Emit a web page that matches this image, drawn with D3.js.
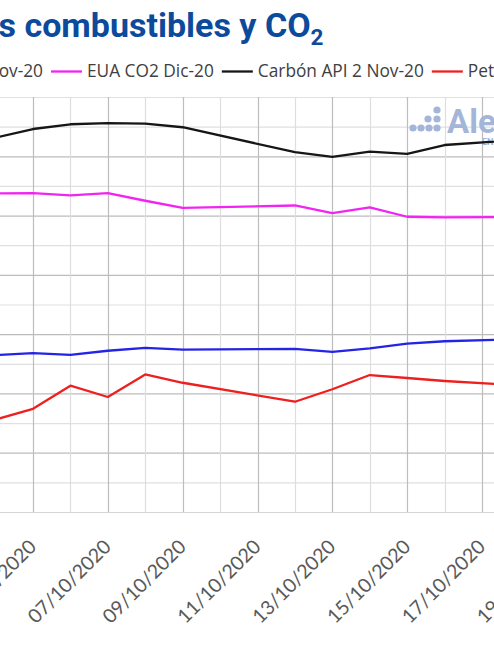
<!DOCTYPE html>
<html>
<head>
<meta charset="utf-8">
<script src="https://cdn.jsdelivr.net/npm/d3@7"></script>
<style>
  html, body { margin: 0; padding: 0; background: #fff; }
  svg { display: block; }
</style>
</head>
<body>
<svg id="chart" width="494" height="661"></svg>
<script>
// ---- data ----
const dates = ["2020-10-02","2020-10-05","2020-10-06","2020-10-07","2020-10-08","2020-10-09",
               "2020-10-12","2020-10-13","2020-10-14","2020-10-15","2020-10-16","2020-10-19"];
const gasTTF  = [25.8, 26.8, 26.5, 27.2, 27.7, 27.4, 27.5, 27.0, 27.6, 28.4, 28.8, 29.3];
const euaCO2  = [53.6, 53.8, 53.4, 53.8, 52.5, 51.3, 51.7, 50.4, 51.4, 49.8, 49.7, 49.8];
const api2    = [60.2, 64.6, 65.4, 65.6, 65.5, 64.9, 60.7, 59.9, 60.8, 60.4, 61.9, 63.2];
const brent   = [12.0, 17.4, 21.3, 19.4, 23.2, 21.8, 18.6, 20.7, 23.1, 22.6, 22.1, 21.0];
const seriesNames = ["Gas TTF Nov-20", "EUA CO2 Dic-20", "Carbón API 2 Nov-20", "Petróleo Brent Dic-20"];
const seriesColors = ["#2424e6", "#f224f2", "#161616", "#ee1f1f"];
const tickLabelDates = ["2020-10-03","2020-10-05","2020-10-07","2020-10-09","2020-10-11",
                        "2020-10-13","2020-10-15","2020-10-17","2020-10-19"];
const titlePre = "Precios de los ";
const titleMain = "Precios de los combustibles y CO";
const titleSub = "2";

// ---- setup ----
const svg = d3.select("#chart");
const W = 494, H = 661;
const parse = d3.utcParse("%Y-%m-%d");
const fmt = d3.utcFormat("%d/%m/%Y");
const plotTop = 97, plotBottom = 512;

const x = d3.scaleUtc()
  .domain([parse("2020-10-05"), parse("2020-10-17")])
  .range([33, 482]);
const y = d3.scaleLinear().domain([0, 70]).range([plotBottom, plotTop]);

// clip
svg.append("defs").append("clipPath").attr("id", "plotClip")
  .append("rect").attr("x", -20).attr("y", plotTop - 5).attr("width", W + 40).attr("height", plotBottom - plotTop + 10);

// horizontal gridlines
const yTicks = d3.range(0, 71, 5);
svg.append("g").selectAll("line").data(yTicks).join("line")
  .attr("x1", 0).attr("x2", W)
  .attr("y1", d => y(d) + 0.5).attr("y2", d => y(d) + 0.5)
  .attr("stroke", d => (d === 0 ? "#d6d6d6" : (d % 10 === 0 && d !== 70 ? "#bcbcbc" : "#e0e0e0")))
  .attr("stroke-width", 1.2);

// vertical gridlines (each day)
const days = d3.utcDay.range(parse("2020-09-30"), parse("2020-10-21"));
const majorSet = new Set(tickLabelDates);
svg.append("g").selectAll("line").data(days).join("line")
  .attr("x1", d => Math.round(x(d)) + 0.5).attr("x2", d => Math.round(x(d)) + 0.5)
  .attr("y1", plotTop).attr("y2", plotBottom)
  .attr("stroke", d => majorSet.has(d3.utcFormat("%Y-%m-%d")(d)) ? "#bdbdbd" : "#dedede")
  .attr("stroke-width", 1.2);

// logo watermark
const logo = svg.append("g").attr("fill", "#a3b5d8");
const dots = [[437,110],[428,119],[437,119],[413,128],[421,128],[429,128],[437,128]];
logo.selectAll("circle").data(dots).join("circle")
  .attr("cx", d => d[0]).attr("cy", d => d[1]).attr("r", 3.6);
logo.append("text").attr("x", 447).attr("y", 133)
  .attr("font-family", "Roboto, sans-serif").attr("font-weight", 700).attr("font-size", 33)
  .text("AleaSoft");
logo.append("text").attr("x", 482).attr("y", 145)
  .attr("font-family", "Roboto, sans-serif").attr("font-weight", 700).attr("font-size", 9)
  .text("ENERGY FORECASTING");

// lines
const allSeries = [gasTTF, euaCO2, api2, brent];
const line = d3.line().x(d => x(d.date)).y(d => y(d.value));
const gLines = svg.append("g").attr("clip-path", "url(#plotClip)");
allSeries.forEach((vals, i) => {
  const pts = dates.map((d, j) => ({ date: parse(d), value: vals[j] }));
  gLines.append("path").datum(pts)
    .attr("d", line).attr("fill", "none")
    .attr("stroke", seriesColors[i]).attr("stroke-width", 2.3)
    .attr("stroke-linejoin", "round");
});

// x axis labels (rotated)
const xAxis = d3.axisBottom(x)
  .tickValues(tickLabelDates.map(parse))
  .tickFormat(fmt).tickSize(0).tickPadding(0);
const gx = svg.append("g").attr("transform", `translate(0,${plotBottom})`).call(xAxis);
gx.select(".domain").remove();
gx.selectAll("text")
  .attr("font-family", "Lato, sans-serif").attr("font-size", 19.5).attr("fill", "#595959")
  .attr("text-anchor", "end")
  .attr("dy", null).attr("y", null)
  .attr("transform", "translate(4,36) rotate(-45)");

// title
const titleFont = "Roboto, sans-serif", titleSize = 34;
const title = svg.append("text").attr("x", 0).attr("y", 37)
  .attr("font-family", titleFont).attr("font-weight", 700).attr("font-size", titleSize)
  .attr("fill", "#0c4a9c");
title.append("tspan").text(titleMain);
title.append("tspan").attr("font-size", 22.5).attr("dy", 8).text(titleSub);
const tmp = svg.append("text").attr("font-family", titleFont).attr("font-weight", 700)
  .attr("font-size", titleSize).text(titlePre);
const preLen = tmp.node().getComputedTextLength();
tmp.remove();
title.attr("x", 16 - preLen);

// legend
const legFont = "'Open Sans', sans-serif", legSize = 17.3;
const gl = svg.append("g");
const measure = s => {
  const t = svg.append("text").attr("font-family", legFont).attr("font-size", legSize).text(s);
  const w = t.node().getComputedTextLength(); t.remove(); return w;
};
const swLen = 31, swGap = 5, itemGap = 8, legY = 77, swY = 71.5;
const widths = seriesNames.map(measure);
const starts = [43 - widths[0]];
for (let i = 1; i < seriesNames.length; i++) {
  starts[i] = starts[i - 1] + widths[i - 1] + itemGap + swLen + swGap;
}
seriesNames.forEach((name, i) => {
  gl.append("line").attr("x1", starts[i] - swGap - swLen).attr("x2", starts[i] - swGap)
    .attr("y1", swY).attr("y2", swY).attr("stroke", seriesColors[i]).attr("stroke-width", 2.3);
  gl.append("text").attr("x", starts[i]).attr("y", legY)
    .attr("font-family", legFont).attr("font-size", legSize).attr("fill", "#404040")
    .text(name);
});
</script>
</body>
</html>
